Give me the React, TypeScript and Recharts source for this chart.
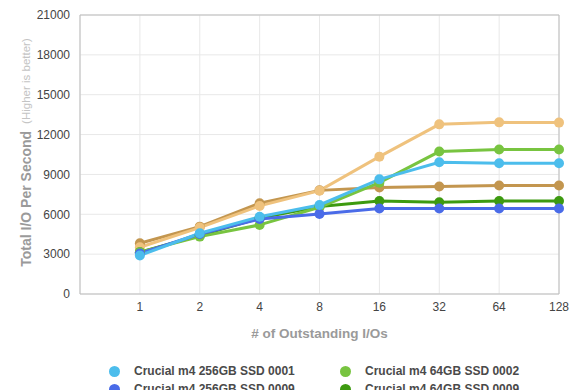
import React from 'react';
import { LineChart, Line, XAxis, YAxis, CartesianGrid, ReferenceArea, Label } from 'recharts';

// queue depths on the x axis
const queueDepths = ['1', '2', '4', '8', '16', '32', '64', '128'];
const yTicks = [0, 3000, 6000, 9000, 12000, 15000, 18000, 21000];

// IOPS per drive / firmware
const m4_256_0001 = [2900, 4570, 5820, 6700, 8630, 9910, 9840, 9840];
const m4_256_0009 = [3050, 4520, 5650, 6030, 6430, 6430, 6430, 6430];
const m4_64_0002 = [3150, 4320, 5200, 6530, 8380, 10720, 10870, 10870];
const m4_64_0009 = [3150, 4400, 5720, 6580, 7000, 6900, 7000, 7000];
const m4_128_0009 = [3820, 5070, 6830, 7800, 8010, 8090, 8160, 8160];
const m4_128_0001 = [3520, 5000, 6630, 7780, 10340, 12770, 12920, 12900];

const series = [
    { key: 's256_0001', name: 'Crucial m4 256GB SSD 0001', color: '#4cbdec', values: m4_256_0001 },
    { key: 's64_0002', name: 'Crucial m4 64GB SSD 0002', color: '#78c440', values: m4_64_0002 },
    { key: 's256_0009', name: 'Crucial m4 256GB SSD 0009', color: '#4a6be8', values: m4_256_0009 },
    { key: 's64_0009', name: 'Crucial m4 64GB SSD 0009', color: '#3d9a10', values: m4_64_0009 },
    { key: 's128_0009', name: 'Crucial m4 128GB SSD 0009', color: '#c3964f', values: m4_128_0009 },
    { key: 's128_0001', name: 'Crucial m4 128GB SSD 0001', color: '#efc27d', values: m4_128_0001 },
];

// draw order (last one on top)
const drawOrder = ['s128_0009', 's128_0001', 's64_0009', 's64_0002', 's256_0009', 's256_0001'];

const data = queueDepths.map((q, i) => {
    const row: any = { idx: i, qd: q };
    series.forEach(s => { row[s.key] = s.values[i]; });
    return row;
});

const FONT = '"Liberation Sans", Arial, Helvetica, sans-serif';

const YAxisTitle = (props: any) => {
    const vb = props.viewBox || { x: 0, y: 15, width: 80, height: 279 };
    const cx = 26;
    const cy = vb.y + vb.height / 2 - 2;
    return (
        <text
            x={cx}
            y={cy}
            transform={`rotate(-90 ${cx} ${cy})`}
            textAnchor="middle"
            dominantBaseline="central"
            fontFamily={FONT}
        >
            <tspan fontSize={14} fontWeight="bold" fill="#9a9a9a">Total I/O Per Second</tspan>
            <tspan fontSize={11.5} fill="#c4c4c4" dx={7}>(Higher is better)</tspan>
        </text>
    );
};

export default function App() {
    return (
        <div style={{ position: 'fixed', top: 0, left: 0, width: 580, height: 390, overflow: 'hidden', background: '#fff', fontFamily: FONT }}>
            <LineChart
                width={580}
                height={345}
                data={data}
                margin={{ top: 15, right: 21, left: 0, bottom: 0 }}
            >
                <CartesianGrid stroke="#e8e8e8" />
                <XAxis
                    dataKey="idx"
                    type="number"
                    domain={[-1, 7]}
                    ticks={queueDepths.map((_, i) => i)}
                    tickFormatter={(v: number) => queueDepths[v] ?? ''}
                    axisLine={false}
                    tickLine={false}
                    height={51}
                    tick={{ fontSize: 12, fill: '#444', fontFamily: FONT }}
                    interval={0}
                >
                    <Label
                        value="# of Outstanding I/Os"
                        position="insideBottom"
                        offset={7}
                        style={{ fontSize: 13.5, fontWeight: 'bold', fill: '#9a9a9a', fontFamily: FONT }}
                    />
                </XAxis>
                <YAxis
                    domain={[0, 21000]}
                    ticks={yTicks}
                    width={80}
                    axisLine={false}
                    tickLine={false}
                    tickMargin={4}
                    tick={{ fontSize: 12, fill: '#444', fontFamily: FONT }}
                    interval={0}
                >
                    <Label content={<YAxisTitle />} />
                </YAxis>
                <ReferenceArea x1={-1} x2={7} y1={0} y2={21000} fill="none" stroke="#bdbdbd" strokeWidth={1} ifOverflow="visible" />
                {drawOrder.map(k => {
                    const s = series.find(x => x.key === k)!;
                    return (
                        <Line
                            key={s.key}
                            isAnimationActive={false}
                            type="linear"
                            dataKey={s.key}
                            name={s.name}
                            stroke={s.color}
                            strokeWidth={3}
                            dot={{ r: 5, fill: s.color, stroke: s.color, strokeWidth: 0 }}
                        />
                    );
                })}
            </LineChart>
            <div style={{ position: 'absolute', top: 362, left: 0, width: 580 }}>
                {[0, 2, 4].map(r => (
                    <div key={r} style={{ position: 'relative', height: 18 }}>
                        {[series[r], series[r + 1]].map((s, c) => (
                            <div
                                key={s.key}
                                style={{ position: 'absolute', left: c === 0 ? 109 : 340, top: 0, height: 18, display: 'flex', alignItems: 'center', whiteSpace: 'nowrap' }}
                            >
                                <span style={{ display: 'inline-block', width: 11, height: 11, borderRadius: '50%', background: s.color, marginRight: 14 }} />
                                <span style={{ fontSize: 12, fontWeight: 'bold', color: '#4a4a4a' }}>{s.name}</span>
                            </div>
                        ))}
                    </div>
                ))}
            </div>
        </div>
    );
}
